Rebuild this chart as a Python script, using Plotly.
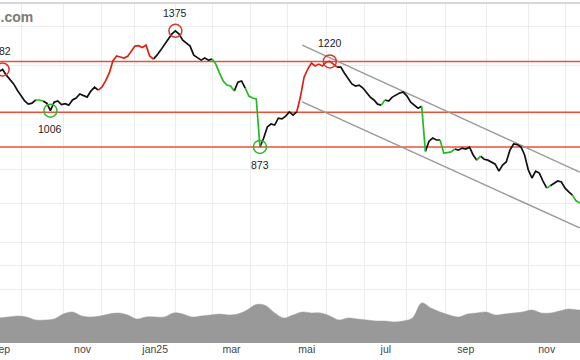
import numpy as np
import pandas as pd
import plotly.graph_objects as go

# ---------------- data ----------------
HOLIDAYS = ["2024-12-24", "2024-12-25", "2024-12-26", "2024-12-31",
            "2025-01-01", "2025-04-18", "2025-04-21", "2025-05-01"]
trading_days = pd.bdate_range("2024-09-02", "2025-12-31")
trading_days = trading_days[~trading_days.isin(pd.to_datetime(HOLIDAYS))]

# closing prices, every second trading day from 2024-09-13
price = [1172, 1182, 1156, 1138, 1117, 1090, 1069, 1045, 1032, 1036,
         1049, 1049, 1045, 1036, 1006, 1040, 1045, 1030, 1034, 1028,
         1049, 1057, 1074, 1069, 1061, 1086, 1103, 1090, 1103, 1130,
         1165, 1222, 1246, 1241, 1236, 1244, 1270, 1295, 1297, 1288,
         1300, 1246, 1231, 1250, 1275, 1300, 1331, 1357, 1375, 1357,
         1326, 1311, 1295, 1250, 1236, 1226, 1236, 1226, 1231, 1207,
         1165, 1130, 1112, 1108, 1086, 1125, 1130, 1099, 1065, 1057,
         1053, 873, 903, 944, 955, 951, 977, 974, 985, 1001,
         989, 1001, 1061, 1147, 1184, 1212, 1198, 1207, 1198, 1217,
         1220, 1207, 1193, 1193, 1165, 1143, 1117, 1108, 1112, 1099,
         1078, 1061, 1049, 1032, 1028, 1049, 1045, 1061, 1069, 1078,
         1082, 1065, 1040, 1028, 1016, 1024, 858, 893, 904, 897,
         897, 852, 854, 856, 866, 862, 869, 866, 872, 846,
         829, 842, 832, 829, 823, 816, 794, 813, 823, 862,
         883, 881, 873, 846, 798, 773, 794, 788, 764, 743,
         750, 758, 764, 761, 743, 732, 723, 707, 701]

# signal colour of each segment (k = neutral, r = up, g = down)
signal_runs = [("k", 10), ("g", 2), ("k", 15), ("r", 15), ("k", 16), ("g", 6),
               ("k", 3), ("g", 4), ("k", 10), ("r", 11), ("k", 12), ("g", 1),
               ("k", 10), ("g", 1), ("k", 4), ("g", 4), ("k", 6), ("g", 1),
               ("k", 18), ("g", 1), ("k", 6), ("g", 2)]

# extremes marked with circles: (index into price, type)
extremes_idx = [1, 14, 48, 71, 90]
extremes_type = ["high", "low", "high", "low", "high"]

# horizontal support / resistance levels
levels = [1220, 1000, 873]

# trend channel
channel_dates = ["2025-05-14", "2025-12-11"]
channel_upper = [1300, 791]
channel_lower = [1041, 636]

# volume (arbitrary units), every fifth trading day from 2024-09-13
volume = [100, 104, 108, 104, 92, 92, 96, 116, 124, 108,
          104, 108, 116, 120, 112, 96, 104, 104, 104, 120,
          116, 104, 108, 112, 116, 112, 116, 132, 154, 150,
          120, 100, 112, 124, 120, 120, 108, 92, 100, 96,
          92, 88, 88, 84, 88, 100, 160, 140, 124, 112,
          104, 116, 120, 124, 112, 116, 120, 124, 132, 120,
          120, 128, 136, 132, 132]

month_labels = ["sep", "nov", "jan25", "mar", "mai", "jul", "sep", "nov"]

# ---------------- derived ----------------
start = trading_days.get_loc(pd.Timestamp("2024-09-13"))
price_dates = list(trading_days[start::2][:len(price)])
volume_dates = list(trading_days[start::5][:len(volume)])

seg_colors = []
for c, n in signal_runs:
    seg_colors += [c] * n

COL = {"k": "#111111", "r": "#dd2211", "g": "#22bb22"}

# month structure on the trading-day axis
s = pd.Series(range(len(trading_days)), index=trading_days)
groups = s.groupby([trading_days.year, trading_days.month])
month_first = [trading_days[g.iloc[0]] for _, g in groups]
month_center = []
for _, g in groups:
    n = len(g)
    if n % 2 == 1:
        d = trading_days[g.iloc[0] + n // 2] + pd.Timedelta(hours=12)
    else:
        d = trading_days[g.iloc[0] + n // 2]
    month_center.append(d)
label_pos = month_center[0::2][:len(month_labels)]

fig = go.Figure()

# volume area
fig.add_trace(go.Scatter(x=volume_dates, y=volume, yaxis="y2", mode="lines",
                         line=dict(color="#999999", width=0.5, shape="spline", smoothing=1.0),
                         fill="tozeroy", fillcolor="#999999", hoverinfo="skip",
                         showlegend=False))

# levels
for lv in levels:
    fig.add_trace(go.Scatter(x=[trading_days[0], trading_days[-1]], y=[lv, lv],
                             mode="lines", line=dict(color="#e8503a", width=1.5),
                             showlegend=False, hoverinfo="skip"))

# channel
for ys in (channel_upper, channel_lower):
    fig.add_trace(go.Scatter(x=channel_dates, y=ys, mode="lines",
                             line=dict(color="#999999", width=1.5),
                             showlegend=False, hoverinfo="skip"))

# price line coloured by signal
for c in ["k", "r", "g"]:
    xs, ys = [], []
    i = 0
    while i < len(seg_colors):
        if seg_colors[i] == c:
            j = i
            while j < len(seg_colors) and seg_colors[j] == c:
                j += 1
            xs += price_dates[i:j + 1] + [None]
            ys += price[i:j + 1] + [None]
            i = j
        else:
            i += 1
    fig.add_trace(go.Scatter(x=xs, y=ys, mode="lines",
                             line=dict(color=COL[c], width=1.7),
                             connectgaps=False, showlegend=False))

# circles + labels
annotations = []
for idx, t in zip(extremes_idx, extremes_type):
    col = "#d9382b" if t == "high" else "#2db82d"
    fig.add_trace(go.Scatter(x=[price_dates[idx]], y=[price[idx]], mode="markers",
                             marker=dict(symbol="circle-open", size=13,
                                         line=dict(color=col, width=1.5), color=col),
                             showlegend=False))
    annotations.append(dict(x=price_dates[idx], y=np.log10(price[idx]),
                            xref="x", yref="y", text=str(price[idx]),
                            showarrow=False, yshift=18 if t == "high" else -18,
                            font=dict(size=10.5, color="#222222",
                                      family="Liberation Sans, Arial")))
annotations[0]["xshift"] = -3

# watermark
annotations.append(dict(xref="paper", yref="paper", x=35 / 580, y=(343 - 17.5) / 340,
                        xanchor="right", yanchor="middle", showarrow=False,
                        text="<span style='color:#f07818'>u</span>.com",
                        font=dict(size=14, color="#7a7a7a", weight="bold",
                                  family="Liberation Sans, Arial")))

fig.update_layout(
    template="none",
    width=580, height=360,
    margin=dict(l=0, r=0, t=3, b=17),
    paper_bgcolor="white", plot_bgcolor="white",
    showlegend=False,
    annotations=annotations,
    shapes=[dict(type="line", xref="paper", yref="paper", x0=0, x1=1, y0=1, y1=1,
                 line=dict(color="#d6d6d6", width=2))],
    xaxis=dict(type="date",
               range=["2024-09-13 13:45", "2025-12-11 03:00"],
               rangebreaks=[dict(bounds=["sat", "mon"]), dict(values=HOLIDAYS)],
               tickmode="array", tickvals=label_pos, ticktext=month_labels,
               showgrid=False, ticks="", zeroline=False, showline=False,
               ticklabeloverflow="allow", automargin=False, ticklabelstandoff=-2,
               tickfont=dict(size=10.5, color="#444444",
                             family="Liberation Sans, Arial"),
               minor=dict(tickmode="array", tickvals=month_first, showgrid=True,
                          gridcolor="#ececec", gridwidth=1, ticks="")),
    yaxis=dict(type="log", range=[np.log10(405.4), np.log10(1533)],
               tickmode="array", tickvals=[500, 550, 600, 700, 800, 1000, 1200, 1400],
               showticklabels=False, showgrid=True, gridcolor="#ececec",
               zeroline=False, showline=False, ticks="", automargin=False),
    yaxis2=dict(overlaying="y", range=[0, 1360], visible=False,
                showgrid=False, zeroline=False),
)

fig.write_html("out.html", config={"displayModeBar": False},
               post_script="document.body.style.margin='0';")
